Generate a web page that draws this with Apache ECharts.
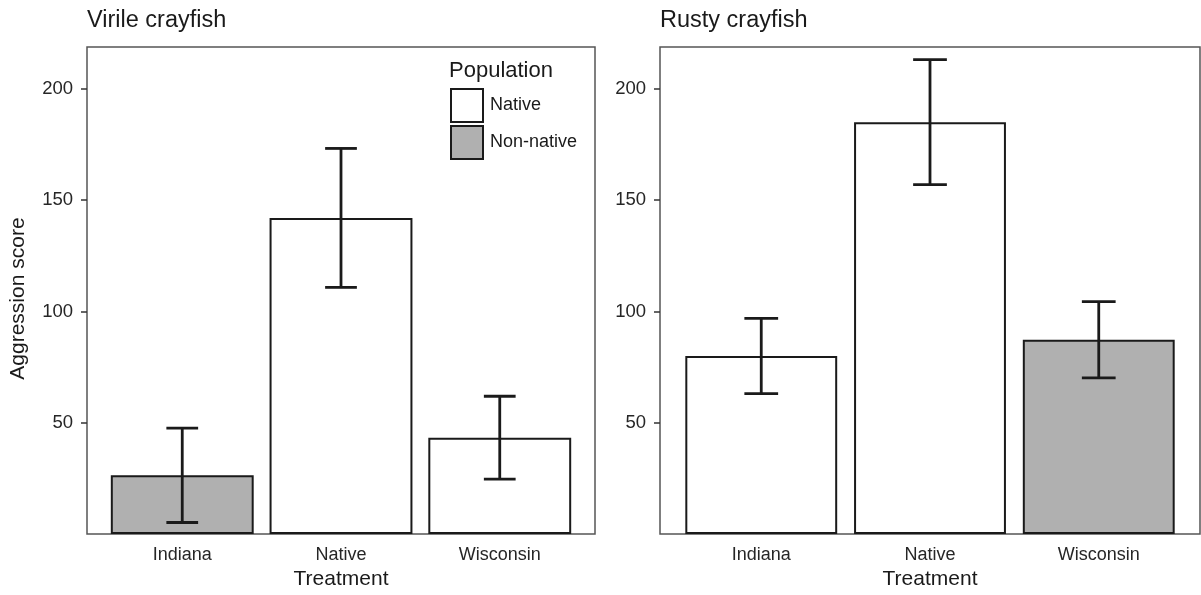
<!DOCTYPE html>
<html>
<head>
<meta charset="utf-8">
<script src="https://cdn.jsdelivr.net/npm/echarts@6/dist/echarts.min.js"></script>
<style>
  html, body { margin: 0; padding: 0; background: #fff; }
  #chart { width: 1201px; height: 595px; }
</style>
</head>
<body>
<div id="chart"></div>
<script>
// data
const categories = ['Indiana', 'Native', 'Wisconsin'];
const virileMean = [26.4, 142, 43.3];
const virileErr = [21.2, 31.2, 18.6];
const virilePop = ['Non-native', 'Native', 'Native'];
const rustyMean = [80, 185, 87.3];
const rustyErr = [16.9, 28.1, 17.1];
const rustyPop = ['Native', 'Native', 'Non-native'];
const yTicks = [50, 100, 150, 200];

const FONT = '"Liberation Sans", Arial, Helvetica, sans-serif';
const INK = '#1a1a1a';
const GREY = '#b0b0b0';

const grids = [
  { left: 87, top: 47, width: 508, height: 490 },
  { left: 660, top: 47, width: 540, height: 490 }
];

function barSeries(name, fill, means, pops, idx) {
  // ggplot-ish: 0.9 of a category unit, axis spans 0.4..3.6
  const w = 0.9 * grids[idx].width / 3.2;
  return {
    name: name,
    type: 'bar',
    xAxisIndex: idx,
    yAxisIndex: idx,
    barWidth: w,
    barGap: '-100%',
    itemStyle: { color: fill, borderColor: INK, borderWidth: 2 },
    data: means.map((m, i) => pops[i] === name ? [i + 1, m] : null).filter(d => d),
    z: 2
  };
}

function errSeries(means, errs, idx) {
  return {
    type: 'custom',
    xAxisIndex: idx,
    yAxisIndex: idx,
    z: 5,
    data: means.map((m, i) => [i + 1, m - errs[i], m + errs[i]]),
    renderItem: function (params, api) {
      const x = api.value(0);
      const lo = api.coord([x, api.value(1)]);
      const hi = api.coord([x, api.value(2)]);
      const half = api.size([0.2, 0])[0] / 2;
      const style = { stroke: INK, lineWidth: 2.8 };
      return {
        type: 'group',
        children: [
          { type: 'line', shape: { x1: lo[0], y1: lo[1], x2: hi[0], y2: hi[1] }, style: style },
          { type: 'line', shape: { x1: lo[0] - half, y1: lo[1], x2: lo[0] + half, y2: lo[1] }, style: style },
          { type: 'line', shape: { x1: hi[0] - half, y1: hi[1], x2: hi[0] + half, y2: hi[1] }, style: style }
        ]
      };
    }
  };
}

function xAxis(idx) {
  return {
    type: 'value',
    gridIndex: idx,
    min: 0.4,
    max: 3.6,
    name: 'Treatment',
    nameLocation: 'middle',
    nameGap: 32,
    nameTextStyle: { fontFamily: FONT, fontSize: 21, color: INK },
    axisLine: { show: false },
    axisTick: { show: false },
    splitLine: { show: false },
    axisLabel: {
      customValues: [1, 2, 3],
      formatter: v => categories[Math.round(v) - 1],
      fontFamily: FONT, fontSize: 18, color: '#262626', margin: 12
    }
  };
}

function yAxis(idx, name) {
  return {
    type: 'value',
    gridIndex: idx,
    min: 0,
    max: 218.75,
    name: name,
    nameLocation: 'middle',
    nameGap: 58,
    nameTextStyle: { fontFamily: FONT, fontSize: 21, color: INK, padding: [0, 16, 0, 0] },
    axisLine: { show: false },
    splitLine: { show: false },
    axisTick: {
      customValues: yTicks, length: 6,
      lineStyle: { color: '#333', width: 1.5 }
    },
    axisLabel: {
      customValues: yTicks,
      fontFamily: FONT, fontSize: 18.5, color: '#262626', margin: 14
    }
  };
}

const chart = echarts.init(document.getElementById('chart'), null, { renderer: 'canvas' });
chart.setOption({
  animation: false,
  backgroundColor: '#fff',
  title: [
    { text: 'Virile crayfish', left: 87, top: 9, padding: 0,
      textStyle: { fontFamily: FONT, fontSize: 23.5, fontWeight: 'normal', color: INK } },
    { text: 'Rusty crayfish', left: 660, top: 9, padding: 0,
      textStyle: { fontFamily: FONT, fontSize: 23.5, fontWeight: 'normal', color: INK } },
    { text: 'Population', left: 449, top: 60, padding: 0,
      textStyle: { fontFamily: FONT, fontSize: 22, fontWeight: 'normal', color: INK } }
  ],
  legend: {
    data: ['Native', 'Non-native'],
    icon: 'rect',
    orient: 'vertical',
    left: 450,
    top: 88,
    padding: 0,
    itemWidth: 32,
    itemHeight: 33,
    itemGap: 2,
    selectedMode: false,
    textStyle: { fontFamily: FONT, fontSize: 18, color: INK, padding: [0, 0, 0, 2] }
  },
  grid: grids.map(g => Object.assign({
    show: true, borderColor: '#555', borderWidth: 1.5, backgroundColor: '#fff'
  }, g)),
  xAxis: [xAxis(0), xAxis(1)],
  yAxis: [yAxis(0, 'Aggression score'), yAxis(1, '')],
  series: [
    barSeries('Native', '#ffffff', virileMean, virilePop, 0),
    barSeries('Non-native', GREY, virileMean, virilePop, 0),
    errSeries(virileMean, virileErr, 0),
    barSeries('Native', '#ffffff', rustyMean, rustyPop, 1),
    barSeries('Non-native', GREY, rustyMean, rustyPop, 1),
    errSeries(rustyMean, rustyErr, 1)
  ]
});
</script>
</body>
</html>
